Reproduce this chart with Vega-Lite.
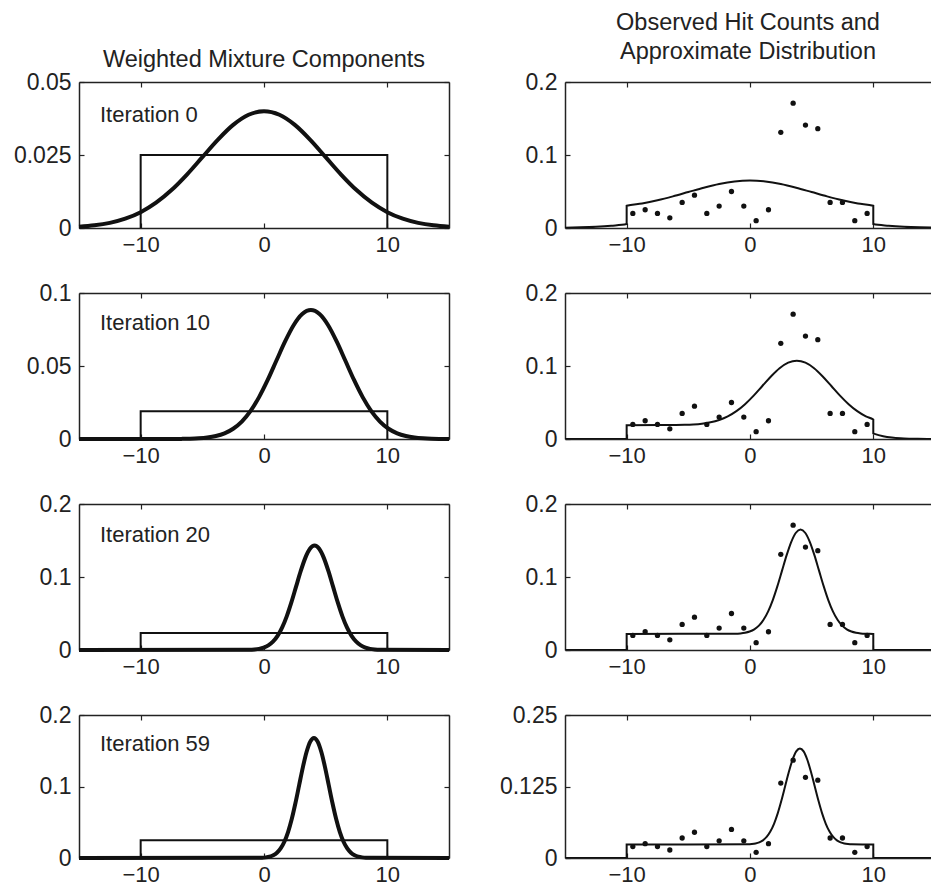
{
  "$schema": "https://vega.github.io/schema/vega-lite/v6.json",
  "background": "white",
  "padding": {"left": 13, "top": 10, "right": 0, "bottom": 0},
  "columns": 2,
  "spacing": {"row": 65, "column": 116},
  "bounds": "flush",
  "config": {
    "view": {"stroke": null},
    "font": "Liberation Sans",
    "axis": {"grid": false, "domainColor": "#222", "domainWidth": 1.5, "tickColor": "#222", "tickWidth": 1.2, "tickSize": -5, "labelFont": "Liberation Sans", "labelColor": "#222", "labelFlush": false, "labelOverlap": false},
    "axisX": {"labelFontSize": 22, "labelPadding": 11},
    "axisY": {"labelFontSize": 23, "labelPadding": 13},
    "title": {"font": "Liberation Sans", "fontSize": 23.5, "fontWeight": "normal", "color": "#222", "anchor": "middle", "frame": "group"}
  },
  "datasets": {
    "box": [
      {"it":0,"i":0,"x":-10,"y":0},{"it":0,"i":1,"x":-10,"y":0.025},{"it":0,"i":2,"x":10,"y":0.025},{"it":0,"i":3,"x":10,"y":0},
      {"it":10,"i":0,"x":-10,"y":0},{"it":10,"i":1,"x":-10,"y":0.019},{"it":10,"i":2,"x":10,"y":0.019},{"it":10,"i":3,"x":10,"y":0},
      {"it":20,"i":0,"x":-10,"y":0},{"it":20,"i":1,"x":-10,"y":0.0233},{"it":20,"i":2,"x":10,"y":0.0233},{"it":20,"i":3,"x":10,"y":0},
      {"it":59,"i":0,"x":-10,"y":0},{"it":59,"i":1,"x":-10,"y":0.025},{"it":59,"i":2,"x":10,"y":0.025},{"it":59,"i":3,"x":10,"y":0}
    ],
    "labels": [
      {"it":0,"label":"Iteration 0"},{"it":10,"label":"Iteration 10"},{"it":20,"label":"Iteration 20"},{"it":59,"label":"Iteration 59"}
    ],
    "hits": [
      {"x":-9.5,"y":0.02},{"x":-8.5,"y":0.025},{"x":-7.5,"y":0.02},{"x":-6.5,"y":0.014},{"x":-5.5,"y":0.035},{"x":-4.5,"y":0.045},{"x":-3.5,"y":0.02},{"x":-2.5,"y":0.03},{"x":-1.5,"y":0.05},{"x":-0.5,"y":0.03},
      {"x":0.5,"y":0.01},{"x":1.5,"y":0.025},{"x":2.5,"y":0.131},{"x":3.5,"y":0.171},{"x":4.5,"y":0.141},{"x":5.5,"y":0.136},{"x":6.5,"y":0.035},{"x":7.5,"y":0.035},{"x":8.5,"y":0.01},{"x":9.5,"y":0.02}
    ],
    "comp": [
      {"it":0,"x":-15,"y":0.00044},{"it":0,"x":-13.75,"y":0.00091},{"it":0,"x":-12.5,"y":0.00176},{"it":0,"x":-11.25,"y":0.00318},{"it":0,"x":-10,"y":0.00541},{"it":0,"x":-8.75,"y":0.00865},{"it":0,"x":-7.5,"y":0.01299},{"it":0,"x":-6.25,"y":0.01831},{"it":0,"x":-5,"y":0.02426},{"it":0,"x":-3.75,"y":0.03019},{"it":0,"x":-2.5,"y":0.0353},{"it":0,"x":-1.25,"y":0.03877},{"it":0,"x":0,"y":0.04},{"it":0,"x":1.25,"y":0.03877},{"it":0,"x":2.5,"y":0.0353},{"it":0,"x":3.75,"y":0.03019},{"it":0,"x":5,"y":0.02426},{"it":0,"x":6.25,"y":0.01831},{"it":0,"x":7.5,"y":0.01299},{"it":0,"x":8.75,"y":0.00865},{"it":0,"x":10,"y":0.00541},{"it":0,"x":11.25,"y":0.00318},{"it":0,"x":12.5,"y":0.00176},{"it":0,"x":13.75,"y":0.00091},{"it":0,"x":15,"y":0.00044},
      {"it":10,"x":-15,"y":0},{"it":10,"x":-7.4,"y":0.00003},{"it":10,"x":-6.7,"y":0.00008},{"it":10,"x":-6.0,"y":0.00019},{"it":10,"x":-5.3,"y":0.00045},{"it":10,"x":-4.6,"y":0.00098},{"it":10,"x":-3.9,"y":0.00201},{"it":10,"x":-3.2,"y":0.00388},{"it":10,"x":-2.5,"y":0.00703},{"it":10,"x":-1.8,"y":0.01195},{"it":10,"x":-1.1,"y":0.0191},{"it":10,"x":-0.4,"y":0.02867},{"it":10,"x":0.3,"y":0.04043},{"it":10,"x":1.0,"y":0.05356},{"it":10,"x":1.7,"y":0.06665},{"it":10,"x":2.4,"y":0.07793},{"it":10,"x":3.1,"y":0.08558},{"it":10,"x":3.8,"y":0.0883},{"it":10,"x":4.5,"y":0.08558},{"it":10,"x":5.2,"y":0.07793},{"it":10,"x":5.9,"y":0.06665},{"it":10,"x":6.6,"y":0.05356},{"it":10,"x":7.3,"y":0.04043},{"it":10,"x":8.0,"y":0.02867},{"it":10,"x":8.7,"y":0.0191},{"it":10,"x":9.4,"y":0.01195},{"it":10,"x":10.1,"y":0.00703},{"it":10,"x":10.8,"y":0.00388},{"it":10,"x":11.5,"y":0.00201},{"it":10,"x":12.2,"y":0.00098},{"it":10,"x":12.9,"y":0.00045},{"it":10,"x":13.6,"y":0.00019},{"it":10,"x":15,"y":0.00003},
      {"it":20,"x":-15,"y":0},{"it":20,"x":-1.15,"y":0.00031},{"it":20,"x":-0.775,"y":0.00073},{"it":20,"x":-0.4,"y":0.00159},{"it":20,"x":-0.025,"y":0.00326},{"it":20,"x":0.35,"y":0.00628},{"it":20,"x":0.725,"y":0.01138},{"it":20,"x":1.1,"y":0.01935},{"it":20,"x":1.475,"y":0.03093},{"it":20,"x":1.85,"y":0.04642},{"it":20,"x":2.225,"y":0.06547},{"it":20,"x":2.6,"y":0.08673},{"it":20,"x":2.975,"y":0.10794},{"it":20,"x":3.35,"y":0.1262},{"it":20,"x":3.725,"y":0.1386},{"it":20,"x":4.1,"y":0.143},{"it":20,"x":4.475,"y":0.1386},{"it":20,"x":4.85,"y":0.1262},{"it":20,"x":5.225,"y":0.10794},{"it":20,"x":5.6,"y":0.08673},{"it":20,"x":5.975,"y":0.06547},{"it":20,"x":6.35,"y":0.04642},{"it":20,"x":6.725,"y":0.03093},{"it":20,"x":7.1,"y":0.01935},{"it":20,"x":7.475,"y":0.01138},{"it":20,"x":7.85,"y":0.00628},{"it":20,"x":8.225,"y":0.00326},{"it":20,"x":8.6,"y":0.00159},{"it":20,"x":8.975,"y":0.00073},{"it":20,"x":9.35,"y":0.00031},{"it":20,"x":15,"y":0},
      {"it":59,"x":-15,"y":0},{"it":59,"x":-0.15,"y":0.00037},{"it":59,"x":0.15,"y":0.00085},{"it":59,"x":0.45,"y":0.00187},{"it":59,"x":0.75,"y":0.00383},{"it":59,"x":1.05,"y":0.00738},{"it":59,"x":1.35,"y":0.01337},{"it":59,"x":1.65,"y":0.02274},{"it":59,"x":1.95,"y":0.03633},{"it":59,"x":2.25,"y":0.05454},{"it":59,"x":2.55,"y":0.07692},{"it":59,"x":2.85,"y":0.1019},{"it":59,"x":3.15,"y":0.12681},{"it":59,"x":3.45,"y":0.14826},{"it":59,"x":3.75,"y":0.16283},{"it":59,"x":4.05,"y":0.168},{"it":59,"x":4.35,"y":0.16283},{"it":59,"x":4.65,"y":0.14826},{"it":59,"x":4.95,"y":0.12681},{"it":59,"x":5.25,"y":0.1019},{"it":59,"x":5.55,"y":0.07692},{"it":59,"x":5.85,"y":0.05454},{"it":59,"x":6.15,"y":0.03633},{"it":59,"x":6.45,"y":0.02274},{"it":59,"x":6.75,"y":0.01337},{"it":59,"x":7.05,"y":0.00738},{"it":59,"x":7.35,"y":0.00383},{"it":59,"x":7.65,"y":0.00187},{"it":59,"x":7.95,"y":0.00085},{"it":59,"x":8.25,"y":0.00037},{"it":59,"x":15,"y":0}
    ],
    "mix": [
      {"it":0,"i":0,"x":-15,"y":0.00044},{"it":0,"i":1,"x":-13.75,"y":0.00091},{"it":0,"i":2,"x":-12.5,"y":0.00176},{"it":0,"i":3,"x":-11.25,"y":0.00318},{"it":0,"i":4,"x":-10,"y":0.00541},{"it":0,"i":5,"x":-10,"y":0.03041},{"it":0,"i":6,"x":-8.75,"y":0.03365},{"it":0,"i":7,"x":-7.5,"y":0.03799},{"it":0,"i":8,"x":-6.25,"y":0.04331},{"it":0,"i":9,"x":-5,"y":0.04926},{"it":0,"i":10,"x":-3.75,"y":0.05519},{"it":0,"i":11,"x":-2.5,"y":0.0603},{"it":0,"i":12,"x":-1.25,"y":0.06377},{"it":0,"i":13,"x":0,"y":0.065},{"it":0,"i":14,"x":1.25,"y":0.06377},{"it":0,"i":15,"x":2.5,"y":0.0603},{"it":0,"i":16,"x":3.75,"y":0.05519},{"it":0,"i":17,"x":5,"y":0.04926},{"it":0,"i":18,"x":6.25,"y":0.04331},{"it":0,"i":19,"x":7.5,"y":0.03799},{"it":0,"i":20,"x":8.75,"y":0.03365},{"it":0,"i":21,"x":10,"y":0.03041},{"it":0,"i":22,"x":10,"y":0.00541},{"it":0,"i":23,"x":11.25,"y":0.00318},{"it":0,"i":24,"x":12.5,"y":0.00176},{"it":0,"i":25,"x":13.75,"y":0.00091},{"it":0,"i":26,"x":15,"y":0.00044},
      {"it":10,"i":0,"x":-15,"y":0},{"it":10,"i":1,"x":-10,"y":0},{"it":10,"i":2,"x":-10,"y":0.019},{"it":10,"i":3,"x":-7.4,"y":0.01903},{"it":10,"i":4,"x":-6.7,"y":0.01908},{"it":10,"i":5,"x":-6.0,"y":0.01919},{"it":10,"i":6,"x":-5.3,"y":0.01945},{"it":10,"i":7,"x":-4.6,"y":0.01998},{"it":10,"i":8,"x":-3.9,"y":0.02101},{"it":10,"i":9,"x":-3.2,"y":0.02288},{"it":10,"i":10,"x":-2.5,"y":0.02603},{"it":10,"i":11,"x":-1.8,"y":0.03095},{"it":10,"i":12,"x":-1.1,"y":0.0381},{"it":10,"i":13,"x":-0.4,"y":0.04767},{"it":10,"i":14,"x":0.3,"y":0.05943},{"it":10,"i":15,"x":1.0,"y":0.07256},{"it":10,"i":16,"x":1.7,"y":0.08565},{"it":10,"i":17,"x":2.4,"y":0.09693},{"it":10,"i":18,"x":3.1,"y":0.10458},{"it":10,"i":19,"x":3.8,"y":0.1073},{"it":10,"i":20,"x":4.5,"y":0.10458},{"it":10,"i":21,"x":5.2,"y":0.09693},{"it":10,"i":22,"x":5.9,"y":0.08565},{"it":10,"i":23,"x":6.6,"y":0.07256},{"it":10,"i":24,"x":7.3,"y":0.05943},{"it":10,"i":25,"x":8.0,"y":0.04767},{"it":10,"i":26,"x":8.7,"y":0.0381},{"it":10,"i":27,"x":9.4,"y":0.03095},{"it":10,"i":28,"x":10,"y":0.02661},{"it":10,"i":29,"x":10,"y":0.00761},{"it":10,"i":30,"x":10.1,"y":0.00703},{"it":10,"i":31,"x":10.8,"y":0.00388},{"it":10,"i":32,"x":11.5,"y":0.00201},{"it":10,"i":33,"x":12.2,"y":0.00098},{"it":10,"i":34,"x":12.9,"y":0.00045},{"it":10,"i":35,"x":13.6,"y":0.00019},{"it":10,"i":36,"x":15,"y":0.00003},
      {"it":20,"i":0,"x":-15,"y":0},{"it":20,"i":1,"x":-10,"y":0},{"it":20,"i":2,"x":-10,"y":0.022},{"it":20,"i":3,"x":-1.15,"y":0.02231},{"it":20,"i":4,"x":-0.775,"y":0.02273},{"it":20,"i":5,"x":-0.4,"y":0.02359},{"it":20,"i":6,"x":-0.025,"y":0.02526},{"it":20,"i":7,"x":0.35,"y":0.02828},{"it":20,"i":8,"x":0.725,"y":0.03338},{"it":20,"i":9,"x":1.1,"y":0.04135},{"it":20,"i":10,"x":1.475,"y":0.05293},{"it":20,"i":11,"x":1.85,"y":0.06842},{"it":20,"i":12,"x":2.225,"y":0.08747},{"it":20,"i":13,"x":2.6,"y":0.10873},{"it":20,"i":14,"x":2.975,"y":0.12994},{"it":20,"i":15,"x":3.35,"y":0.1482},{"it":20,"i":16,"x":3.725,"y":0.1606},{"it":20,"i":17,"x":4.1,"y":0.165},{"it":20,"i":18,"x":4.475,"y":0.1606},{"it":20,"i":19,"x":4.85,"y":0.1482},{"it":20,"i":20,"x":5.225,"y":0.12994},{"it":20,"i":21,"x":5.6,"y":0.10873},{"it":20,"i":22,"x":5.975,"y":0.08747},{"it":20,"i":23,"x":6.35,"y":0.06842},{"it":20,"i":24,"x":6.725,"y":0.05293},{"it":20,"i":25,"x":7.1,"y":0.04135},{"it":20,"i":26,"x":7.475,"y":0.03338},{"it":20,"i":27,"x":7.85,"y":0.02828},{"it":20,"i":28,"x":8.225,"y":0.02526},{"it":20,"i":29,"x":8.6,"y":0.02359},{"it":20,"i":30,"x":8.975,"y":0.02273},{"it":20,"i":31,"x":9.35,"y":0.02231},{"it":20,"i":32,"x":10,"y":0.02206},{"it":20,"i":33,"x":10,"y":0.00006},{"it":20,"i":34,"x":15,"y":0},
      {"it":59,"i":0,"x":-15,"y":0},{"it":59,"i":1,"x":-10,"y":0},{"it":59,"i":2,"x":-10,"y":0.0235},{"it":59,"i":3,"x":-0.15,"y":0.02387},{"it":59,"i":4,"x":0.15,"y":0.02435},{"it":59,"i":5,"x":0.45,"y":0.02537},{"it":59,"i":6,"x":0.75,"y":0.02733},{"it":59,"i":7,"x":1.05,"y":0.03088},{"it":59,"i":8,"x":1.35,"y":0.03687},{"it":59,"i":9,"x":1.65,"y":0.04624},{"it":59,"i":10,"x":1.95,"y":0.05983},{"it":59,"i":11,"x":2.25,"y":0.07804},{"it":59,"i":12,"x":2.55,"y":0.10042},{"it":59,"i":13,"x":2.85,"y":0.1254},{"it":59,"i":14,"x":3.15,"y":0.15031},{"it":59,"i":15,"x":3.45,"y":0.17176},{"it":59,"i":16,"x":3.75,"y":0.18633},{"it":59,"i":17,"x":4.05,"y":0.1915},{"it":59,"i":18,"x":4.35,"y":0.18633},{"it":59,"i":19,"x":4.65,"y":0.17176},{"it":59,"i":20,"x":4.95,"y":0.15031},{"it":59,"i":21,"x":5.25,"y":0.1254},{"it":59,"i":22,"x":5.55,"y":0.10042},{"it":59,"i":23,"x":5.85,"y":0.07804},{"it":59,"i":24,"x":6.15,"y":0.05983},{"it":59,"i":25,"x":6.45,"y":0.04624},{"it":59,"i":26,"x":6.75,"y":0.03687},{"it":59,"i":27,"x":7.05,"y":0.03088},{"it":59,"i":28,"x":7.35,"y":0.02733},{"it":59,"i":29,"x":7.65,"y":0.02537},{"it":59,"i":30,"x":7.95,"y":0.02435},{"it":59,"i":31,"x":8.25,"y":0.02387},{"it":59,"i":32,"x":10,"y":0.0235},{"it":59,"i":33,"x":10,"y":0},{"it":59,"i":34,"x":15,"y":0}
    ]
  },
  "concat": [
    {
      "width": 370, "height": 146,
      "title": {"text": "Weighted Mixture Components", "offset": 0},
      "layer": [
        {"data": {"name": "box"}, "transform": [{"filter": "datum.it == 0"}],
         "mark": {"type": "line", "color": "#111", "strokeWidth": 2},
         "encoding": {
           "x": {"field": "x", "type": "quantitative", "scale": {"domain": [-15, 15], "nice": false, "zero": false}, "axis": {"orient": "bottom", "values": [-10, 0, 10], "title": null}},
           "y": {"field": "y", "type": "quantitative", "scale": {"domain": [0, 0.05], "nice": false}, "axis": {"orient": "left", "values": [0, 0.025, 0.05], "labelExpr": "format(datum.value, '~g')", "title": null}},
           "order": {"field": "i"}}},
        {"data": {"name": "comp"}, "transform": [{"filter": "datum.it == 0"}],
         "mark": {"type": "line", "color": "#111", "strokeWidth": 4, "interpolate": "monotone"},
         "encoding": {
           "x": {"field": "x", "type": "quantitative", "scale": {"domain": [-15, 15], "nice": false, "zero": false}, "axis": {"orient": "top", "values": [-10, 0, 10], "labels": false, "title": null}},
           "y": {"field": "y", "type": "quantitative", "scale": {"domain": [0, 0.05], "nice": false}, "axis": {"orient": "right", "values": [0, 0.025, 0.05], "labels": false, "title": null}}}},
        {"data": {"name": "labels"}, "transform": [{"filter": "datum.it == 0"}],
         "mark": {"type": "text", "align": "left", "baseline": "alphabetic", "fontSize": 22, "color": "#222"},
         "encoding": {
           "x": {"datum": -13.3, "type": "quantitative", "scale": {"domain": [-15, 15], "nice": false, "zero": false}, "axis": null},
           "y": {"datum": 0.0364, "type": "quantitative", "scale": {"domain": [0, 0.05], "nice": false}, "axis": null},
           "text": {"field": "label"}}}
      ],
      "resolve": {"axis": {"x": "independent", "y": "independent"}}
    },
    {
      "width": 366, "height": 146,
      "title": {"text": ["Observed Hit Counts and", "Approximate Distribution"], "offset": 8, "lineHeight": 29},
      "layer": [
        {"data": {"name": "hits"},
         "mark": {"type": "circle", "size": 28, "color": "#111", "opacity": 1},
         "encoding": {
           "x": {"field": "x", "type": "quantitative", "scale": {"domain": [-15, 14.68], "nice": false, "zero": false}, "axis": {"orient": "bottom", "values": [-10, 0, 10], "title": null}},
           "y": {"field": "y", "type": "quantitative", "scale": {"domain": [0, 0.2], "nice": false}, "axis": {"orient": "left", "values": [0, 0.1, 0.2], "labelExpr": "format(datum.value, '~g')", "title": null}}}},
        {"data": {"name": "mix"}, "transform": [{"filter": "datum.it == 0"}],
         "mark": {"type": "line", "color": "#111", "strokeWidth": 2, "interpolate": "monotone", "clip": true},
         "encoding": {
           "x": {"field": "x", "type": "quantitative", "scale": {"domain": [-15, 14.68], "nice": false, "zero": false}, "axis": {"orient": "top", "values": [-10, 0, 10], "labels": false, "title": null}},
           "y": {"field": "y", "type": "quantitative", "scale": {"domain": [0, 0.2], "nice": false}, "axis": null},
           "order": {"field": "i"}}}
      ],
      "resolve": {"axis": {"x": "independent", "y": "independent"}}
    },
    {
      "width": 370, "height": 146,
      "layer": [
        {"data": {"name": "box"}, "transform": [{"filter": "datum.it == 10"}],
         "mark": {"type": "line", "color": "#111", "strokeWidth": 2},
         "encoding": {
           "x": {"field": "x", "type": "quantitative", "scale": {"domain": [-15, 15], "nice": false, "zero": false}, "axis": {"orient": "bottom", "values": [-10, 0, 10], "title": null}},
           "y": {"field": "y", "type": "quantitative", "scale": {"domain": [0, 0.1], "nice": false}, "axis": {"orient": "left", "values": [0, 0.05, 0.1], "labelExpr": "format(datum.value, '~g')", "title": null}},
           "order": {"field": "i"}}},
        {"data": {"name": "comp"}, "transform": [{"filter": "datum.it == 10"}],
         "mark": {"type": "line", "color": "#111", "strokeWidth": 4, "interpolate": "monotone"},
         "encoding": {
           "x": {"field": "x", "type": "quantitative", "scale": {"domain": [-15, 15], "nice": false, "zero": false}, "axis": {"orient": "top", "values": [-10, 0, 10], "labels": false, "title": null}},
           "y": {"field": "y", "type": "quantitative", "scale": {"domain": [0, 0.1], "nice": false}, "axis": {"orient": "right", "values": [0, 0.05, 0.1], "labels": false, "title": null}}}},
        {"data": {"name": "labels"}, "transform": [{"filter": "datum.it == 10"}],
         "mark": {"type": "text", "align": "left", "baseline": "alphabetic", "fontSize": 22, "color": "#222"},
         "encoding": {
           "x": {"datum": -13.3, "type": "quantitative", "scale": {"domain": [-15, 15], "nice": false, "zero": false}, "axis": null},
           "y": {"datum": 0.0747, "type": "quantitative", "scale": {"domain": [0, 0.1], "nice": false}, "axis": null},
           "text": {"field": "label"}}}
      ],
      "resolve": {"axis": {"x": "independent", "y": "independent"}}
    },
    {
      "width": 366, "height": 146,
      "layer": [
        {"data": {"name": "hits"},
         "mark": {"type": "circle", "size": 28, "color": "#111", "opacity": 1},
         "encoding": {
           "x": {"field": "x", "type": "quantitative", "scale": {"domain": [-15, 14.68], "nice": false, "zero": false}, "axis": {"orient": "bottom", "values": [-10, 0, 10], "title": null}},
           "y": {"field": "y", "type": "quantitative", "scale": {"domain": [0, 0.2], "nice": false}, "axis": {"orient": "left", "values": [0, 0.1, 0.2], "labelExpr": "format(datum.value, '~g')", "title": null}}}},
        {"data": {"name": "mix"}, "transform": [{"filter": "datum.it == 10"}],
         "mark": {"type": "line", "color": "#111", "strokeWidth": 2, "interpolate": "monotone", "clip": true},
         "encoding": {
           "x": {"field": "x", "type": "quantitative", "scale": {"domain": [-15, 14.68], "nice": false, "zero": false}, "axis": {"orient": "top", "values": [-10, 0, 10], "labels": false, "title": null}},
           "y": {"field": "y", "type": "quantitative", "scale": {"domain": [0, 0.2], "nice": false}, "axis": null},
           "order": {"field": "i"}}}
      ],
      "resolve": {"axis": {"x": "independent", "y": "independent"}}
    },
    {
      "width": 370, "height": 146,
      "layer": [
        {"data": {"name": "box"}, "transform": [{"filter": "datum.it == 20"}],
         "mark": {"type": "line", "color": "#111", "strokeWidth": 2},
         "encoding": {
           "x": {"field": "x", "type": "quantitative", "scale": {"domain": [-15, 15], "nice": false, "zero": false}, "axis": {"orient": "bottom", "values": [-10, 0, 10], "title": null}},
           "y": {"field": "y", "type": "quantitative", "scale": {"domain": [0, 0.2], "nice": false}, "axis": {"orient": "left", "values": [0, 0.1, 0.2], "labelExpr": "format(datum.value, '~g')", "title": null}},
           "order": {"field": "i"}}},
        {"data": {"name": "comp"}, "transform": [{"filter": "datum.it == 20"}],
         "mark": {"type": "line", "color": "#111", "strokeWidth": 4, "interpolate": "monotone"},
         "encoding": {
           "x": {"field": "x", "type": "quantitative", "scale": {"domain": [-15, 15], "nice": false, "zero": false}, "axis": {"orient": "top", "values": [-10, 0, 10], "labels": false, "title": null}},
           "y": {"field": "y", "type": "quantitative", "scale": {"domain": [0, 0.2], "nice": false}, "axis": {"orient": "right", "values": [0, 0.1, 0.2], "labels": false, "title": null}}}},
        {"data": {"name": "labels"}, "transform": [{"filter": "datum.it == 20"}],
         "mark": {"type": "text", "align": "left", "baseline": "alphabetic", "fontSize": 22, "color": "#222"},
         "encoding": {
           "x": {"datum": -13.3, "type": "quantitative", "scale": {"domain": [-15, 15], "nice": false, "zero": false}, "axis": null},
           "y": {"datum": 0.148, "type": "quantitative", "scale": {"domain": [0, 0.2], "nice": false}, "axis": null},
           "text": {"field": "label"}}}
      ],
      "resolve": {"axis": {"x": "independent", "y": "independent"}}
    },
    {
      "width": 366, "height": 146,
      "layer": [
        {"data": {"name": "hits"},
         "mark": {"type": "circle", "size": 28, "color": "#111", "opacity": 1},
         "encoding": {
           "x": {"field": "x", "type": "quantitative", "scale": {"domain": [-15, 14.68], "nice": false, "zero": false}, "axis": {"orient": "bottom", "values": [-10, 0, 10], "title": null}},
           "y": {"field": "y", "type": "quantitative", "scale": {"domain": [0, 0.2], "nice": false}, "axis": {"orient": "left", "values": [0, 0.1, 0.2], "labelExpr": "format(datum.value, '~g')", "title": null}}}},
        {"data": {"name": "mix"}, "transform": [{"filter": "datum.it == 20"}],
         "mark": {"type": "line", "color": "#111", "strokeWidth": 2, "interpolate": "monotone", "clip": true},
         "encoding": {
           "x": {"field": "x", "type": "quantitative", "scale": {"domain": [-15, 14.68], "nice": false, "zero": false}, "axis": {"orient": "top", "values": [-10, 0, 10], "labels": false, "title": null}},
           "y": {"field": "y", "type": "quantitative", "scale": {"domain": [0, 0.2], "nice": false}, "axis": null},
           "order": {"field": "i"}}}
      ],
      "resolve": {"axis": {"x": "independent", "y": "independent"}}
    },
    {
      "width": 370, "height": 143,
      "layer": [
        {"data": {"name": "box"}, "transform": [{"filter": "datum.it == 59"}],
         "mark": {"type": "line", "color": "#111", "strokeWidth": 2},
         "encoding": {
           "x": {"field": "x", "type": "quantitative", "scale": {"domain": [-15, 15], "nice": false, "zero": false}, "axis": {"orient": "bottom", "values": [-10, 0, 10], "title": null}},
           "y": {"field": "y", "type": "quantitative", "scale": {"domain": [0, 0.2], "nice": false}, "axis": {"orient": "left", "values": [0, 0.1, 0.2], "labelExpr": "format(datum.value, '~g')", "title": null}},
           "order": {"field": "i"}}},
        {"data": {"name": "comp"}, "transform": [{"filter": "datum.it == 59"}],
         "mark": {"type": "line", "color": "#111", "strokeWidth": 4, "interpolate": "monotone"},
         "encoding": {
           "x": {"field": "x", "type": "quantitative", "scale": {"domain": [-15, 15], "nice": false, "zero": false}, "axis": {"orient": "top", "values": [-10, 0, 10], "labels": false, "title": null}},
           "y": {"field": "y", "type": "quantitative", "scale": {"domain": [0, 0.2], "nice": false}, "axis": {"orient": "right", "values": [0, 0.1, 0.2], "labels": false, "title": null}}}},
        {"data": {"name": "labels"}, "transform": [{"filter": "datum.it == 59"}],
         "mark": {"type": "text", "align": "left", "baseline": "alphabetic", "fontSize": 22, "color": "#222"},
         "encoding": {
           "x": {"datum": -13.3, "type": "quantitative", "scale": {"domain": [-15, 15], "nice": false, "zero": false}, "axis": null},
           "y": {"datum": 0.15, "type": "quantitative", "scale": {"domain": [0, 0.2], "nice": false}, "axis": null},
           "text": {"field": "label"}}}
      ],
      "resolve": {"axis": {"x": "independent", "y": "independent"}}
    },
    {
      "width": 366, "height": 143,
      "layer": [
        {"data": {"name": "hits"},
         "mark": {"type": "circle", "size": 28, "color": "#111", "opacity": 1},
         "encoding": {
           "x": {"field": "x", "type": "quantitative", "scale": {"domain": [-15, 14.68], "nice": false, "zero": false}, "axis": {"orient": "bottom", "values": [-10, 0, 10], "title": null}},
           "y": {"field": "y", "type": "quantitative", "scale": {"domain": [0, 0.25], "nice": false}, "axis": {"orient": "left", "values": [0, 0.125, 0.25], "labelExpr": "format(datum.value, '~g')", "title": null}}}},
        {"data": {"name": "mix"}, "transform": [{"filter": "datum.it == 59"}],
         "mark": {"type": "line", "color": "#111", "strokeWidth": 2, "interpolate": "monotone", "clip": true},
         "encoding": {
           "x": {"field": "x", "type": "quantitative", "scale": {"domain": [-15, 14.68], "nice": false, "zero": false}, "axis": {"orient": "top", "values": [-10, 0, 10], "labels": false, "title": null}},
           "y": {"field": "y", "type": "quantitative", "scale": {"domain": [0, 0.25], "nice": false}, "axis": null},
           "order": {"field": "i"}}}
      ],
      "resolve": {"axis": {"x": "independent", "y": "independent"}}
    }
  ]
}
